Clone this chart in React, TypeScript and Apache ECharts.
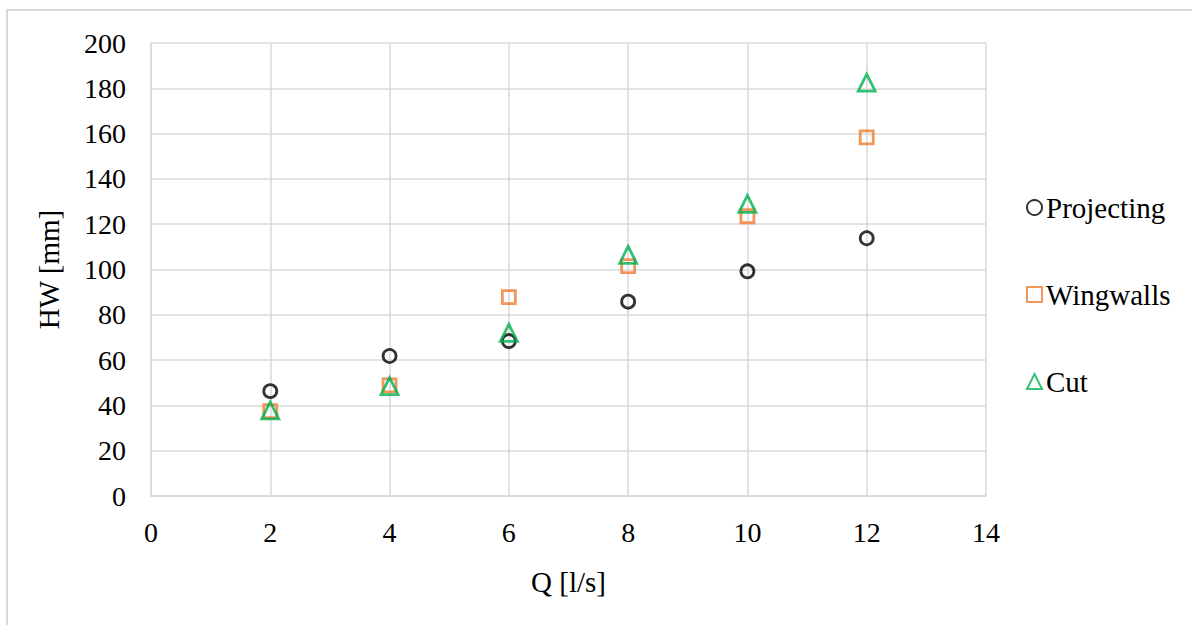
import React, { useEffect, useRef } from "react";
import * as echarts from "echarts";

const qValues = [2, 4, 6, 8, 10, 12];
const projecting = [46.3, 61.8, 68.4, 85.8, 99.2, 113.8];
const wingwalls = [37.5, 48.8, 87.8, 101.5, 123.5, 158.3];
const cut = [37.8, 48.5, 72.0, 106.5, 129.0, 182.5];

const seriesNames = ["Projecting", "Wingwalls", "Cut"];
const seriesColors = ["#000000", "#ED7D31", "#00B050"];

const FONT = "Liberation Serif";

export default function App() {
  const ref = useRef<HTMLDivElement>(null);
  useEffect(() => {
    if (!ref.current) return;
    const chart = echarts.init(ref.current, null, { renderer: "svg" });
    const pair = (ys: number[]) => qValues.map((q, i) => [q, ys[i]]);
    const symbols = ["circle", "rect", "triangle"];
    const sizes = [13, 13, 17];
    const datas = [projecting, wingwalls, cut];
    chart.setOption({
      animation: false,
      backgroundColor: "#ffffff",
      textStyle: { fontFamily: FONT },
      graphic: [
        {
          type: "rect",
          shape: { x: 7, y: 10, width: 1200, height: 700 },
          style: { fill: "none", stroke: "#d9d9d9", lineWidth: 2 },
          silent: true,
        },
      ],
      grid: { left: 151, right: 206, top: 43, bottom: 129 },
      legend: {
        orient: "vertical",
        left: 1021,
        top: 188,
        itemGap: 58,
        itemWidth: 15,
        itemHeight: 15,
        textStyle: { fontFamily: FONT, fontSize: 29, color: "#000", padding: [0, 0, 0, -1] },
        data: seriesNames.map((n) => ({ name: n })),
      },
      xAxis: {
        type: "value",
        min: 0,
        max: 14,
        interval: 2,
        name: "Q [l/s]",
        nameLocation: "middle",
        nameGap: 71,
        nameTextStyle: { fontFamily: FONT, fontSize: 29, color: "#000" },
        axisLine: { show: true, lineStyle: { color: "#d9d9d9", width: 1.5 } },
        axisTick: { show: false },
        axisLabel: { fontFamily: FONT, fontSize: 28, color: "#000", margin: 22 },
        splitLine: { show: true, lineStyle: { color: "#d9d9d9", width: 1.5 } },
      },
      yAxis: {
        type: "value",
        min: 0,
        max: 200,
        interval: 20,
        name: "HW [mm]",
        nameLocation: "middle",
        nameGap: 88,
        nameTextStyle: { fontFamily: FONT, fontSize: 29, color: "#000" },
        axisLine: { show: true, lineStyle: { color: "#d9d9d9", width: 1.5 } },
        axisTick: { show: false },
        axisLabel: { fontFamily: FONT, fontSize: 28, color: "#000", margin: 25 },
        splitLine: { show: true, lineStyle: { color: "#d9d9d9", width: 1.5 } },
      },
      series: seriesNames.map((name, k) => ({
        name,
        type: "scatter",
        symbol: symbols[k],
        symbolSize: sizes[k],
        data: pair(datas[k]),
        itemStyle: {
          color: "rgba(255,255,255,0)",
          borderColor: seriesColors[k],
          borderWidth: 2.8,
        },
      })),
    });
    return () => chart.dispose();
  }, []);
  return (
    <div
      ref={ref}
      style={{ position: "fixed", left: 0, top: 0, width: 1192, height: 625 }}
    />
  );
}
